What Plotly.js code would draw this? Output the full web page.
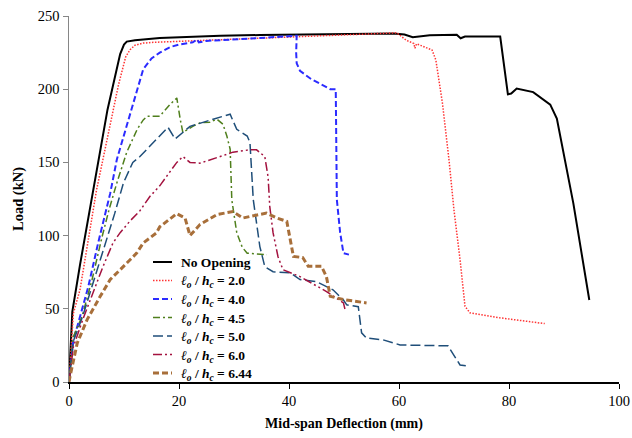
<!DOCTYPE html>
<html>
<head>
<meta charset="utf-8">
<script src="https://cdn.plot.ly/plotly-3.0.1.min.js"></script>
<style>html,body{margin:0;padding:0;background:#fff;}#chart{width:632px;height:438px;}</style>
</head>
<body>
<div id="chart"></div>
<script>
// Series names
const names = [
  "<b>No Opening</b>",
  "<b><i>ℓ</i><sub><i>o</i></sub> / <i>h</i><sub><i>c</i></sub> = 2.0</b>",
  "<b><i>ℓ</i><sub><i>o</i></sub> / <i>h</i><sub><i>c</i></sub> = 4.0</b>",
  "<b><i>ℓ</i><sub><i>o</i></sub> / <i>h</i><sub><i>c</i></sub> = 4.5</b>",
  "<b><i>ℓ</i><sub><i>o</i></sub> / <i>h</i><sub><i>c</i></sub> = 5.0</b>",
  "<b><i>ℓ</i><sub><i>o</i></sub> / <i>h</i><sub><i>c</i></sub> = 6.0</b>",
  "<b><i>ℓ</i><sub><i>o</i></sub> / <i>h</i><sub><i>c</i></sub> = 6.44</b>"
];

// Deflection (mm) / Load (kN) pairs
const noOpeningX = [0, 0.3, 0.6, 2, 4.4, 7, 9.3, 10, 10.5, 12, 16.5, 22, 27.5, 34.7, 40, 45, 50, 55, 59, 61, 62.5, 65.6, 70.5, 71.2, 72, 78.4, 79.8, 80.4, 81.4, 84.4, 87.5, 88.7, 91.7, 94.6];
const noOpeningY = [0, 30, 48, 80, 131, 186, 224, 230.5, 232.5, 233.5, 235, 235.8, 236.5, 237, 237.2, 237.3, 237.5, 237.7, 238, 237.3, 235.5, 236.8, 237.2, 234.8, 236, 236, 196.5, 197, 200.5, 198, 189.5, 180, 122, 56];

const r20X = [0, 0.4, 0.8, 2, 5, 7, 9, 10.3, 11.1, 12, 13.5, 15.3, 22.5, 34.7, 45, 55, 59.6, 61.3, 62.7, 62.9, 63.2, 66, 66.7, 67.9, 69.1, 70, 71.1, 72, 72.9, 78.4, 86.5];
const r20Y = [0, 25, 47, 63, 131, 167, 203, 222, 227, 230, 231.5, 232, 233, 235.2, 236.5, 237.5, 238.5, 233.5, 231.2, 228, 231, 226.8, 220, 190.4, 151.4, 117.3, 83.6, 51.7, 47.2, 43.8, 39.9];

const r40X = [0, 0.8, 1.7, 3.5, 5.3, 7.5, 8.7, 10.5, 12.2, 13.5, 15, 16.5, 18.4, 20, 22.5, 23.3, 23.6, 25, 34.7, 40, 41.4, 41.3, 41.4, 42, 44, 47.5, 48.5, 48.7, 49.3, 49.9, 50.9];
const r40Y = [0, 29, 40.5, 65, 95, 129, 152, 174.6, 197, 213.7, 221, 225, 228.8, 230.5, 232, 234, 232, 233, 235, 236, 236.5, 225, 217.7, 212.5, 207, 200, 200, 124.5, 102, 88, 87];

const r45X = [0, 0.8, 2.4, 4.2, 6, 7.3, 8.7, 10.5, 12.4, 13.5, 14.2, 16.5, 18.4, 19.6, 20.2, 20.7, 22.5, 23.8, 25.6, 26.9, 28, 28.7, 29.3, 29.6, 30.5, 31.5, 32.4, 36];
const r45Y = [0, 31, 45, 70, 99, 118, 136, 157, 172.6, 179, 181.5, 181.5, 189.7, 194, 180, 170.5, 174.6, 177, 177.5, 179.5, 176, 168, 159, 124.5, 102, 92, 88, 87];

const r50X = [0, 0.8, 2.5, 4.4, 6.9, 8.3, 9.9, 11.6, 12.9, 14.7, 15.3, 18, 19.3, 22, 26.2, 29.3, 30.5, 32.4, 32.9, 33.5, 34.7, 35.6, 37.1, 40.2, 42, 45, 48, 49.9, 50.5, 52.6, 53.2, 54.1, 57.1, 60.2, 68.9, 70.2, 71.1, 72.3];
const r50Y = [0, 28, 45, 67.5, 97, 115, 136, 150, 154, 161, 163.7, 174, 166, 174.6, 179.5, 182.9, 172.6, 168, 163.7, 124.7, 92.5, 78.8, 75.3, 74.6, 70, 68.5, 63, 56, 52.7, 51.4, 33.6, 30, 28.8, 25.3, 24.7, 17, 11.6, 11];

const r60X = [0, 0.8, 2.5, 4.4, 6.2, 8, 9.3, 11.1, 12.9, 14.7, 16.5, 19.6, 20.7, 22, 23.8, 27.5, 29.8, 32.9, 34.1, 35.6, 36.2, 36.5, 37.1, 38, 38.9, 42, 46.2, 46.9, 49.9, 50.2];
const r60Y = [0, 24, 42.6, 61, 79, 95, 102, 110, 117, 126.7, 134, 150, 154, 150, 149.5, 154, 157, 158.6, 158.6, 154, 140, 120, 102, 85.6, 76.7, 72, 63, 61.6, 54, 49.3];

const r644X = [0, 0.2, 1.5, 3.3, 5.6, 7.5, 9.3, 12.3, 13.5, 15.9, 16.5, 17.8, 19.6, 21.1, 22, 23.8, 26.9, 29.8, 31.6, 35.9, 37.8, 39.6, 40.8, 42.5, 43.5, 45.9, 46.8, 47.5, 49.9, 54.1];
const r644Y = [0, 4, 26.6, 42.6, 58, 70, 76.7, 88, 95, 101.8, 106, 110, 115, 112, 100, 107.5, 114.4, 116.4, 112, 115.4, 112, 109.7, 85.8, 85, 79, 79, 72, 58.5, 56.3, 54];

const xTicks = [0, 20, 40, 60, 80, 100];
const yTicks = [0, 50, 100, 150, 200, 250];

const xs = [noOpeningX, r20X, r40X, r45X, r50X, r60X, r644X];
const ys = [noOpeningY, r20Y, r40Y, r45Y, r50Y, r60Y, r644Y];
const styles = [
  {color: "#000000", width: 2, dash: "solid"},
  {color: "#ff3333", width: 1.5, dash: "1.5px,1.5px"},
  {color: "#2b2bff", width: 2, dash: "6px,3px"},
  {color: "#4f7f1c", width: 1.5, dash: "7px,3px,2px,3px"},
  {color: "#1f4e79", width: 1.5, dash: "10px,4px"},
  {color: "#a3123f", width: 1.5, dash: "9px,3px,2px,3px,2px,3px"},
  {color: "#a86f3a", width: 3, dash: "6px,3px"}
];

const traces = xs.map((x, i) => ({
  x: x, y: ys[i], name: names[i], type: "scatter", mode: "lines",
  line: Object.assign({shape: "linear"}, styles[i])
}));

// Plot area geometry (pixels) used for the hand-placed legend
const W = 632, H = 438, ML = 69, MR = 13, MT = 16, MB = 56;
const PW = W - ML - MR, PH = H - MT - MB;
const px2x = p => (p - ML) / PW;
const py2y = p => (H - MB - p) / PH;
const legTop = 262, legStep = 18.5, legLine0 = 153, legLine1 = 172, legText = 179;

const serif = "Liberation Serif";
const shapes = [], annotations = [];
names.forEach((n, i) => {
  const py = legTop + i * legStep;
  shapes.push({type: "line", xref: "paper", yref: "paper",
    x0: px2x(legLine0), x1: px2x(legLine1), y0: py2y(py), y1: py2y(py),
    line: {color: styles[i].color, width: styles[i].width, dash: styles[i].dash}});
  annotations.push({xref: "paper", yref: "paper", x: px2x(legText), y: py2y(py + (i === 0 ? 0 : 1.5)),
    xanchor: "left", yanchor: "middle", showarrow: false, text: n,
    font: {family: serif, size: 13.5, color: "#000"}});
});

const layout = {
  width: W, height: H,
  margin: {l: ML, r: MR, t: MT, b: MB},
  paper_bgcolor: "#ffffff", plot_bgcolor: "#ffffff",
  font: {family: serif, color: "#000"},
  showlegend: false,
  shapes: shapes, annotations: annotations,
  xaxis: {
    range: [0, 100], tickvals: xTicks, ticktext: xTicks.map(String),
    showgrid: false, zeroline: false, showline: true,
    linecolor: "#000", linewidth: 1.5, ticks: "outside", ticklen: 5, tickcolor: "#000", tickwidth: 1,
    tickfont: {family: serif, size: 14.5, color: "#000"},
    title: {text: "<b>Mid-span Deflection (mm)</b>", font: {family: serif, size: 14, color: "#000"}, standoff: 10}
  },
  yaxis: {
    range: [0, 250], tickvals: yTicks, ticktext: yTicks.map(String),
    showgrid: false, zeroline: false, showline: true,
    linecolor: "#868686", linewidth: 1.5, ticks: "outside", ticklen: 5, tickcolor: "#868686", tickwidth: 1,
    tickfont: {family: serif, size: 14.5, color: "#000"},
    title: {text: "<b>Load (kN)</b>", font: {family: serif, size: 14.5, color: "#000"}, standoff: 11}
  }
};

Plotly.newPlot("chart", traces, layout, {staticPlot: true, displayModeBar: false});
</script>
</body>
</html>
